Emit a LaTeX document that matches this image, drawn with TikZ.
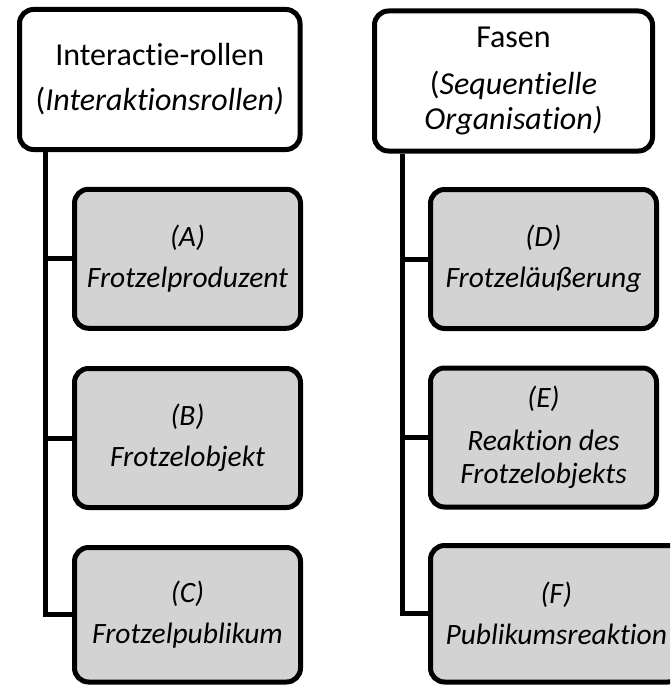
\documentclass[tikz,border=0pt]{standalone}
\usepackage{fontspec}
\setmainfont{Carlito}[Ligatures=NoCommon]
\definecolor{leafgray}{RGB}{211,211,211}
\tikzset{
  headbox/.style={draw=black, line width=5pt, rounded corners=14pt, fill=white,
    align=center, inner sep=0pt, anchor=center},
  leafbox/.style={headbox, fill=leafgray, font=\fontsize{29.5}{33}\selectfont\itshape},
  link/.style={draw=black, line width=5pt}
}
\begin{document}
\begin{tikzpicture}[x=1pt, y=-1pt]
  \clip (0,0) rectangle (670,685);
  \fill[white] (0,0) rectangle (670,685);

  % column headers
  \node[headbox, minimum width=280.5pt, minimum height=140pt,
        font=\fontsize{32}{38}\selectfont] (hL) at (159.75,79.5)
        {Interactie-rollen\\[7pt](\textit{Interaktionsrollen)}};
  \node[headbox, minimum width=278pt, minimum height=140pt,
        font=\fontsize{32}{35}\selectfont] (hR) at (513.5,81)
        {Fasen\\[12pt](\textit{Sequentielle}\\\textit{Organisation)}};

  % left column: roles
  \node[leafbox, minimum width=226pt, minimum height=139pt] (A) at (187.5,258.75)
        {(A)\\[8pt]Frotzelproduzent};
  \node[leafbox, minimum width=226pt, minimum height=139pt] (B) at (187.5,438)
        {(B)\\[8pt]Frotzelobjekt};
  \node[leafbox, minimum width=226pt, minimum height=134.5pt] (C) at (187.5,614.75)
        {(C)\\[8pt]Frotzelpublikum};

  % right column: phases
  \node[leafbox, minimum width=226pt, minimum height=139pt] (D) at (543.5,259)
        {(D)\\[8pt]Frotzeläußerung};
  \node[leafbox, minimum width=226pt, minimum height=139pt] (E) at (543.5,437.5)
        {(E)\\[10pt]Reaktion des\\Frotzelobjekts};
  \node[leafbox, minimum width=251.5pt, minimum height=136.5pt] (F) at (556.25,613.75)
        {(F)\\[8pt]Publikumsreaktion};

  % trunk positions
  \coordinate (tL) at (45,0);
  \coordinate (tR) at (402,0);

  % connectors
  \draw[link] (hL.south -| tL) |- (C.west);
  \draw[link] (A.west -| tL) -- (A.west);
  \draw[link] (B.west -| tL) -- (B.west);
  \draw[link] (hR.south -| tR) |- (F.west);
  \draw[link] (D.west -| tR) -- (D.west);
  \draw[link] (E.west -| tR) -- (E.west);
\end{tikzpicture}
\end{document}
